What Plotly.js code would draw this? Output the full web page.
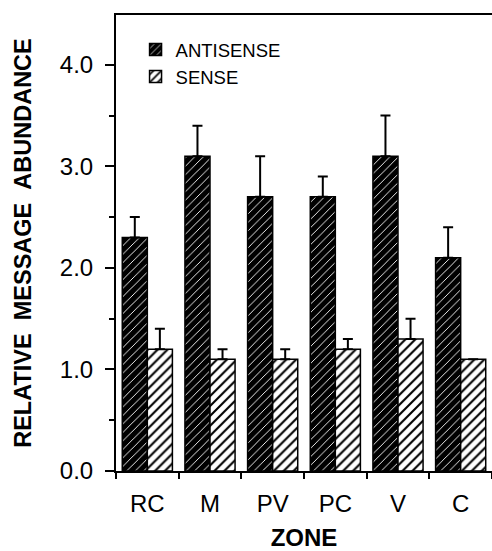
<!DOCTYPE html>
<html>
<head>
<meta charset="utf-8">
<script src="https://cdn.plot.ly/plotly-3.0.1.min.js"></script>
<style>html,body{margin:0;padding:0;background:#fff;}#chart{width:492px;height:551px;}</style>
</head>
<body>
<div id="chart"></div>
<script>
const zones = ["RC", "M", "PV", "PC", "V", "C"];
const antisense = [2.3, 3.1, 2.7, 2.7, 3.1, 2.1];
const antisenseErr = [0.2, 0.3, 0.4, 0.2, 0.4, 0.3];
const sense = [1.2, 1.1, 1.1, 1.2, 1.3, 1.1];
const senseErr = [0.2, 0.1, 0.1, 0.1, 0.2, 0];
const yTickVals = [0, 1, 2, 3, 4];
const yTickText = ["0.0", "1.0", "2.0", "3.0", "4.0"];

const zeros = zones.map(() => 0);
const baseFont = "Liberation Sans, Arial, Helvetica, sans-serif";

const traces = [
  {
    type: "bar", name: "ANTISENSE", x: zones, y: antisense,
    marker: {
      color: "#000",
      line: {color: "#000", width: 1.5},
      pattern: {shape: "/", bgcolor: "#000", fgcolor: "#fff", size: 6, solidity: 0.15, fillmode: "replace"}
    },
    error_y: {type: "data", symmetric: false, array: antisenseErr, arrayminus: zeros, color: "#000", thickness: 2, width: 5}
  },
  {
    type: "bar", name: "SENSE", x: zones, y: sense,
    marker: {
      color: "#fff",
      line: {color: "#000", width: 1.5},
      pattern: {shape: "/", bgcolor: "#fff", fgcolor: "#000", size: 7, solidity: 0.3, fillmode: "replace"}
    },
    error_y: {type: "data", symmetric: false, array: senseErr, arrayminus: zeros, color: "#000", thickness: 2, width: 5}
  }
];

const layout = {
  width: 492, height: 551,
  margin: {l: 116, r: 0, t: 15, b: 80},
  paper_bgcolor: "#fff", plot_bgcolor: "#fff",
  barmode: "group", bargap: 0.2, bargroupgap: 0,
  showlegend: true,
  legend: {
    x: 0.052, y: 0.965, xanchor: "left", yanchor: "top",
    bgcolor: "rgba(0,0,0,0)", borderwidth: 0,
    font: {family: baseFont, size: 18.5, color: "#000"},
    tracegroupgap: 0
  },
  xaxis: {
    range: [-0.5, 5.5],
    showline: true, linecolor: "#000", linewidth: 2, mirror: true,
    ticks: "outside", tickson: "boundaries", ticklen: 6, tickwidth: 2, tickcolor: "#000",
    showgrid: false, zeroline: false,
    ticklabelstandoff: 10,
    tickfont: {family: baseFont, size: 24, color: "#000"},
    title: {text: "ZONE", font: {family: baseFont, size: 24, color: "#000", weight: "bold"}, standoff: 14}
  },
  yaxis: {
    range: [0, 4.49],
    tickvals: yTickVals, ticktext: yTickText,
    showline: true, linecolor: "#000", linewidth: 2,
    ticks: "outside", ticklen: 9, tickwidth: 2, tickcolor: "#000",
    minor: {dtick: 0.5, ticks: "outside", ticklen: 5, tickwidth: 2, tickcolor: "#000", showgrid: false},
    showgrid: false, zeroline: false,
    ticklabelstandoff: 7,
    tickfont: {family: baseFont, size: 24, color: "#000"},
    title: {text: "RELATIVE\u00a0\u00a0MESSAGE\u00a0\u00a0ABUNDANCE", font: {family: baseFont, size: 23.5, color: "#000", weight: "bold"}, standoff: 22}
  }
};

Plotly.newPlot("chart", traces, layout, {displayModeBar: false, staticPlot: true});
</script>
</body>
</html>
